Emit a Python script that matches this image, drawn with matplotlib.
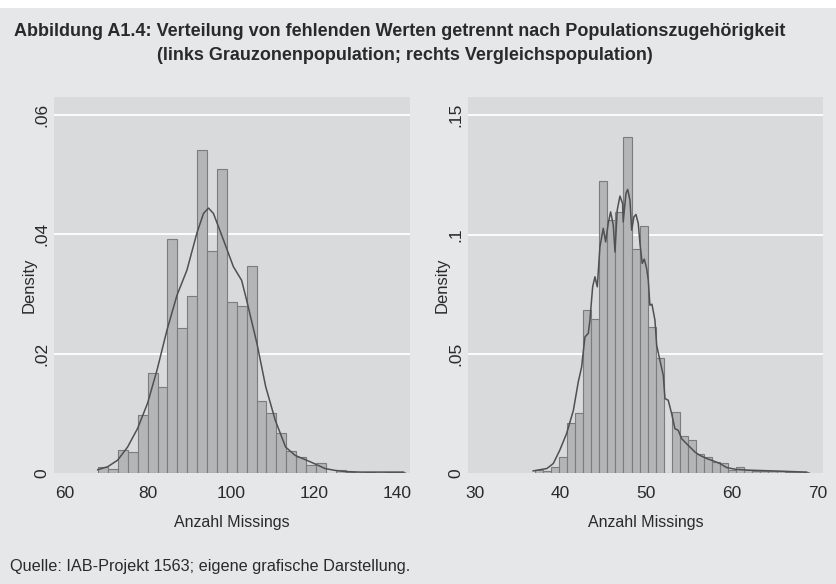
import numpy as np
import matplotlib
matplotlib.use("Agg")
import matplotlib.pyplot as plt
from matplotlib.patches import Rectangle

plt.rcParams['font.family'] = ['Liberation Sans', 'DejaVu Sans']

# Grauzonenpopulation: histogram densities (31 bins between 68 and 142 missings)
left_bin_lo, left_bin_hi = 68, 142
left_density = [0.0011, 0.0008, 0.0039, 0.0036, 0.0098, 0.0168, 0.0144, 0.0393,
                0.0244, 0.0297, 0.0541, 0.0373, 0.0510, 0.0286, 0.0280, 0.0347,
                0.0121, 0.0101, 0.0068, 0.0037, 0.0027, 0.0014, 0.0017, 0.0,
                0.0006, 0.0003, 0.0001, 0.0003, 0.0001, 0.0003, 0.0003]

# kernel density curve, Grauzonenpopulation
left_kde_x = [67.9, 70.3, 72.7, 75.1, 77.5, 79.9, 82.2, 84.6, 87.0, 89.4, 91.8,
              93.4, 94.6, 95.8, 98.2, 100.6, 102.6, 103.8, 106.3, 108.4, 110.7,
              113.2, 115.5, 117.9, 120.2, 122.7, 125.0, 127.4, 131.2, 141.6]
left_kde_y = [0.0006, 0.0011, 0.0022, 0.0044, 0.0075, 0.0117, 0.0173, 0.0240,
              0.0298, 0.0340, 0.0402, 0.0435, 0.0444, 0.0435, 0.0391, 0.0346,
              0.0323, 0.0290, 0.0217, 0.0145, 0.0089, 0.0044, 0.0030, 0.0023,
              0.0016, 0.0008, 0.0005, 0.0003, 0.0002, 0.0002]

# Vergleichspopulation: histogram densities (34 bins between 37 and 69 missings)
right_bin_lo, right_bin_hi = 37, 69
right_density = [0.0014, 0.0011, 0.0028, 0.0067, 0.0211, 0.0253, 0.0684, 0.0647,
                 0.1226, 0.1059, 0.1096, 0.1410, 0.0940, 0.1037, 0.0612, 0.0482,
                 0.0, 0.0257, 0.0156, 0.0139, 0.0081, 0.0067, 0.0046, 0.0042,
                 0.0014, 0.0025, 0.0014, 0.0011, 0.0008, 0.0008, 0.0011, 0.0007,
                 0.0006, 0.0006]

# kernel density curve, Vergleichspopulation
right_kde_x = [36.8, 38.4, 39.15, 39.9, 40.7, 41.5, 42.07, 42.46, 42.85, 43.24,
               43.43, 43.75, 44.02, 44.29, 44.6, 44.99, 45.27, 45.57, 45.85, 46.16,
               46.36, 46.62, 46.94, 47.25, 47.32, 47.64, 47.84, 48.11, 48.31, 48.57,
               48.81, 49.08, 49.28, 49.54, 49.78, 50.06, 50.25, 50.44, 50.68, 51.03,
               51.23, 51.61, 52.0, 52.2, 52.58, 52.98, 53.36, 53.75, 54.15, 54.53,
               55.12, 55.7, 56.29, 57.07, 57.84, 58.62, 59.4, 60.57, 62.13, 64.85,
               68.75]
right_kde_y = [0.0010, 0.0020, 0.0041, 0.0096, 0.0166, 0.0264, 0.0383, 0.0445,
               0.0571, 0.0586, 0.0641, 0.0781, 0.0823, 0.0781, 0.0949, 0.1026,
               0.0969, 0.1047, 0.1095, 0.1039, 0.0927, 0.1102, 0.1161, 0.1130,
               0.1053, 0.1172, 0.1189, 0.1144, 0.1018, 0.1074, 0.1084, 0.1046,
               0.0962, 0.0879, 0.0897, 0.0858, 0.0809, 0.0704, 0.0708, 0.0641,
               0.0536, 0.0473, 0.0411, 0.0313, 0.0306, 0.0250, 0.0187, 0.0180,
               0.0145, 0.0131, 0.0110, 0.0089, 0.0075, 0.0062, 0.0052, 0.0041,
               0.0024, 0.0016, 0.0013, 0.0010, 0.0005]

left_xticks = [60, 80, 100, 120, 140]
left_yticks = [0, 0.02, 0.04, 0.06]
left_ylabels = ['0', '.02', '.04', '.06']
right_xticks = [30, 40, 50, 60, 70]
right_yticks = [0, 0.05, 0.1, 0.15]
right_ylabels = ['0', '.05', '.1', '.15']

outer_bg = '#e6e7e8'
plot_bg = '#d9dadc'
bar_fill = '#b4b5b7'
bar_edge = '#7c7c7e'
line_col = '#505052'
txt_col = '#2a2a2a'

fig = plt.figure(figsize=(8.37, 5.84), dpi=100, facecolor=outer_bg)
# white strip along the top edge
fig.patches.append(Rectangle((0, 584 - 8), 837, 8, transform=None,
                             facecolor='white', edgecolor='none', zorder=0))

ax1 = fig.add_axes([54 / 837, 1 - 473.3 / 584, 356 / 837, 376.3 / 584])
ax2 = fig.add_axes([467.7 / 837, 1 - 473.3 / 584, 355.6 / 837, 376.3 / 584])


def draw_panel(ax, lo, hi, dens, kx, ky, xlim, ylim, xt, yt, ylab):
    edges = np.linspace(lo, hi, len(dens) + 1)
    ax.set_facecolor(plot_bg)
    for y in yt[1:]:
        ax.axhline(y, color='white', lw=1.3, zorder=1)
    ax.bar(edges[:-1], dens, width=np.diff(edges), align='edge',
           color=bar_fill, edgecolor=bar_edge, linewidth=0.8, zorder=2)
    ax.plot(kx, ky, color=line_col, lw=1.1, zorder=3)
    ax.set_xlim(*xlim)
    ax.set_ylim(*ylim)
    ax.set_xticks(xt)
    ax.set_yticks(yt)
    ax.set_yticklabels(ylab, rotation=90, va='center')
    ax.tick_params(length=0, labelsize=12.5, colors=txt_col, pad=9)
    ax.tick_params(axis='y', pad=3)
    for s in ax.spines.values():
        s.set_visible(False)
    ax.set_xlabel('Anzahl Missings', fontsize=11.5, color=txt_col, labelpad=10)
    ax.set_ylabel('Density', fontsize=12, color=txt_col, labelpad=-1)


draw_panel(ax1, left_bin_lo, left_bin_hi, left_density, left_kde_x, left_kde_y,
           (57.35, 143.2), (0, 0.063), left_xticks, left_yticks, left_ylabels)
draw_panel(ax2, right_bin_lo, right_bin_hi, right_density, right_kde_x, right_kde_y,
           (29.15, 70.7), (0, 0.1576), right_xticks, right_yticks, right_ylabels)

fig.text(400 / 837, 1 - 32 / 584,
         'Abbildung A1.4: Verteilung von fehlenden Werten getrennt nach Populationszugehörigkeit',
         ha='center', va='center', fontsize=13, fontweight='bold', color=txt_col)
fig.text(405 / 837, 1 - 55 / 584,
         '(links Grauzonenpopulation; rechts Vergleichspopulation)',
         ha='center', va='center', fontsize=13, fontweight='bold', color=txt_col)
fig.text(10 / 837, 1 - 566 / 584,
         'Quelle: IAB-Projekt 1563; eigene grafische Darstellung.',
         ha='left', va='center', fontsize=11.7, color=txt_col)

fig.savefig('out.png', dpi=100, facecolor=fig.get_facecolor())
